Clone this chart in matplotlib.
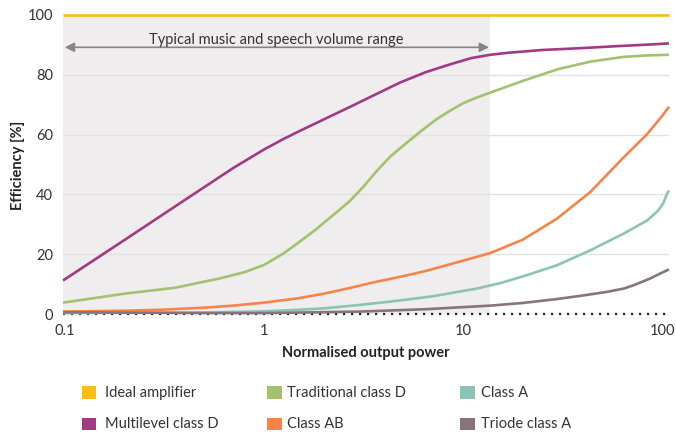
import matplotlib
matplotlib.use("Agg")
import matplotlib.pyplot as plt
from matplotlib.patches import Rectangle
from matplotlib.ticker import NullLocator

plt.rcParams['font.family'] = ['Lato', 'DejaVu Sans']

# ---- data ----
ideal_x = [0.098, 108]
ideal_y = [100, 100]

multilevel_x = [0.098, 0.2, 0.4, 0.7, 1.0, 1.25, 1.52, 2.0, 2.71, 3.6, 4.82, 6.5,
                8.6, 11, 13.7, 17, 25, 38.7, 60, 85, 108]
multilevel_y = [11.2, 24.8, 38.1, 48.8, 55.0, 58.5, 61.3, 65.1, 69.3, 73.3, 77.4, 80.9,
                83.5, 85.6, 86.7, 87.4, 88.3, 88.9, 89.6, 90.1, 90.5]

traditional_x = [0.098, 0.2, 0.36, 0.6, 0.8, 1.0, 1.25, 1.5, 1.84, 2.2, 2.7, 3.16, 3.68,
                 4.3, 5.0, 6.1, 7.3, 8.6, 10, 11.7, 15.3, 20, 30, 43.5, 64, 85, 108]
traditional_y = [3.8, 6.8, 8.8, 11.9, 14.0, 16.4, 20.2, 24.0, 28.5, 32.8, 37.8, 42.6, 47.8,
                 52.6, 56.3, 61.0, 65.0, 68.0, 70.5, 72.4, 75.2, 78.0, 81.9, 84.4, 86.0,
                 86.5, 86.7]

class_ab_x = [0.098, 0.2, 0.3, 0.5, 0.7, 1.0, 1.5, 2.0, 2.7, 3.5, 4.8, 6.5, 9.0, 11.7,
              13.7, 20, 29.6, 43.5, 64, 84, 100, 108]
class_ab_y = [0.8, 1.1, 1.4, 2.1, 2.8, 3.8, 5.3, 6.8, 8.7, 10.5, 12.4, 14.4, 17.0, 19.1,
              20.4, 24.9, 31.9, 40.8, 52.4, 60.2, 66.3, 69.3]

class_a_x = [0.098, 0.5, 1.0, 1.5, 2.0, 3.0, 4.5, 7.0, 11.7, 15.3, 20, 29.6, 43.5, 64,
             84, 95, 101, 105.6, 108]
class_a_y = [0.3, 0.5, 0.9, 1.4, 1.9, 3.0, 4.3, 5.9, 8.5, 10.3, 12.6, 16.3, 21.3, 26.9,
             31.3, 34.5, 37.0, 40.2, 41.3]

triode_x = [0.098, 0.5, 1.0, 3.0, 6.5, 10, 13.7, 20, 29.6, 40, 52.7, 64, 71.7, 87, 98, 108]
triode_y = [0.6, 0.3, 0.3, 0.8, 1.6, 2.3, 2.8, 3.7, 5.0, 6.2, 7.4, 8.5, 9.6, 11.9, 13.6, 14.9]

labels = ["Ideal amplifier", "Multilevel class D", "Traditional class D",
          "Class AB", "Class A", "Triode class A"]
colors = ["#FBBC18", "#A03A83", "#A2C26E", "#F6844A", "#8BC3B8", "#877479"]

x_ticks = [0.1, 1, 10, 100]
x_ticklabels = ["0.1", "1", "10", "100"]
y_ticks = [0, 20, 40, 60, 80, 100]
range_end = 13.7
range_label = "Typical music and speech volume range"

W, H = 676, 436

# ---- figure ----
fig = plt.figure(figsize=(W / 100, H / 100), dpi=100)
ax = fig.add_axes([63 / W, 1 - 314 / H, 606 / W, 299 / H])
ax.set_xscale('log')
xmin, xmax = 0.098, 108
ax.set_xlim(xmin, xmax)
ax.set_ylim(0, 100)

ax.axvspan(xmin, range_end, color="#EFEDEE", zorder=0, lw=0)
for y in y_ticks[1:-1]:
    ax.axhline(y, color="#E3E1E2", lw=1, zorder=1)
ax.plot([xmin, xmax], [0, 0], color="#222222", lw=1.6, ls=(0, (1, 2.6)),
        zorder=2, clip_on=False)

series = [(ideal_x, ideal_y), (multilevel_x, multilevel_y), (traditional_x, traditional_y),
          (class_ab_x, class_ab_y), (class_a_x, class_a_y), (triode_x, triode_y)]
for (xs, ys), c in zip(series, colors):
    ax.plot(xs, ys, color=c, lw=1.9, zorder=3, clip_on=False,
            solid_capstyle='butt', solid_joinstyle='round')

ax.annotate('', xy=(0.1, 89.2), xytext=(range_end * 0.985, 89.2),
            arrowprops=dict(arrowstyle='<|-|>', color="#8A8386", lw=1.2,
                            mutation_scale=14, shrinkA=0, shrinkB=0))
ax.text(1.15, 90.4, range_label, ha='center', va='baseline', fontsize=10.5, color="#333333")

for s in ax.spines.values():
    s.set_visible(False)
ax.set_xticks(x_ticks)
ax.set_xticklabels(x_ticklabels)
ax.xaxis.set_minor_locator(NullLocator())
ax.set_yticks(y_ticks)
ax.tick_params(length=0, labelsize=10.5, labelcolor="#333333", pad=7)

fig.text(366 / W, 1 - 353 / H, "Normalised output power", ha='center', va='center',
         fontsize=10.5, fontweight='bold', color="#222222")
fig.text(18 / W, 1 - 165 / H, "Efficiency [%]", ha='center', va='center', rotation=90,
         fontsize=10.5, fontweight='bold', color="#222222")

# ---- legend (3 columns x 2 rows) ----
col_sq = [82, 267, 460]
col_tx = [105, 287, 481]
row_y = [392.5, 424]
order = [(0, 0), (1, 0), (0, 1), (1, 1), (0, 2), (1, 2)]  # (row, col) per label
for lab, c, (r, k) in zip(labels, colors, order):
    fig.add_artist(Rectangle((col_sq[k] / W, 1 - (row_y[r] + 6.3) / H), 14.5 / W, 12.6 / H,
                             transform=fig.transFigure, facecolor=c, edgecolor='none'))
    fig.text(col_tx[k] / W, 1 - row_y[r] / H, lab, ha='left', va='center',
             fontsize=10.5, color="#333333")

fig.savefig("out.png", dpi=100)
